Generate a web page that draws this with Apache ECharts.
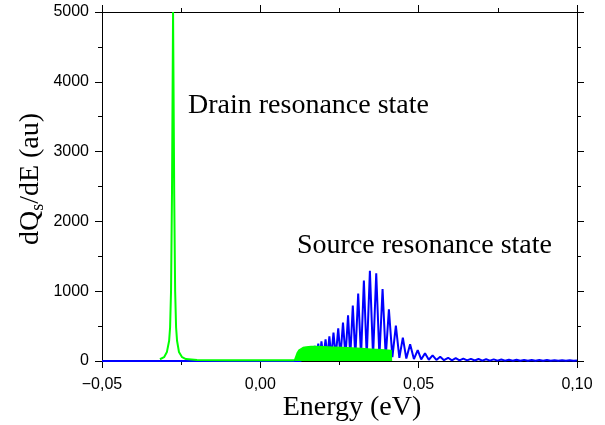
<!DOCTYPE html>
<html>
<head>
<meta charset="utf-8">
<script src="https://cdn.jsdelivr.net/npm/echarts@6/dist/echarts.min.js"></script>
<style>
html,body{margin:0;padding:0;background:#fff;}
#chart{width:605px;height:425px;}
</style>
</head>
<body>
<div id="chart"></div>
<script>
// ---- data ----
const xTickLabels = ['\u22120,05', '0,00', '0,05', '0,10'];
const yTickLabels = ['0', '1000', '2000', '3000', '4000', '5000'];

// blue curve: source-side resonance spikes (energy eV, dQs/dE)
const blueCurve = [
  [-0.05, 0], [0.0125, 0],
  [0.0150, 60], [0.0156, 20],
  [0.0162, 140], [0.0167, 40],
  [0.0172, 215], [0.0177, 50],
  [0.0183, 248], [0.0188, 50],
  [0.0193, 282], [0.0199, 55],
  [0.0206, 311], [0.0212, 55],
  [0.0218, 354], [0.0224, 55],
  [0.0231, 406], [0.0238, 60],
  [0.0246, 469], [0.0253, 60],
  [0.0261, 549], [0.0269, 60],
  [0.0277, 655], [0.0284, 60],
  [0.0292, 793], [0.0300, 60],
  [0.0309, 965], [0.0318, 60],
  [0.0327, 1152], [0.0336, 60],
  [0.0346, 1291], [0.0356, 60],
  [0.0366, 1258], [0.0376, 60],
  [0.0386, 1032], [0.0396, 60],
  [0.0406, 741], [0.0417, 55],
  [0.0428, 506], [0.0439, 45],
  [0.0450, 334], [0.0461, 35],
  [0.0473, 239], [0.0485, 28],
  [0.0497, 155], [0.0508, 22],
  [0.0520, 110], [0.0532, 18],
  [0.0544, 80], [0.0556, 15],
  [0.0568, 60], [0.0580, 12],
  [0.0593, 46], [0.0605, 10],
  [0.0617, 40], [0.0629, 9],
  [0.0641, 35], [0.0653, 8],
  [0.0665, 31], [0.0677, 7],
  [0.0689, 28], [0.0701, 6],
  [0.0713, 25], [0.0725, 6],
  [0.0737, 23], [0.0749, 5],
  [0.0761, 21], [0.0773, 5],
  [0.0785, 19], [0.0797, 5],
  [0.0809, 17], [0.0821, 4],
  [0.0833, 16], [0.0845, 4],
  [0.0857, 15], [0.0869, 4],
  [0.0881, 14], [0.0893, 4],
  [0.0905, 13], [0.0917, 3],
  [0.0929, 12], [0.0941, 3],
  [0.0953, 11], [0.0965, 3],
  [0.0977, 10], [0.0989, 3],
  [0.1000, 8]
];

// green curve: drain resonance peak and its tail
const drainPeak = [
  [-0.0317, 25], [-0.0304, 55], [-0.0295, 130], [-0.0288, 290],
  [-0.0285, 480], [-0.0282, 1000], [-0.0279, 2400], [-0.02756, 5000],
  [-0.0272, 2400], [-0.0269, 1000], [-0.0266, 480], [-0.0263, 290],
  [-0.0257, 130], [-0.0247, 55], [-0.0235, 28], [-0.020, 16],
  [-0.010, 10], [0.000, 9], [0.0108, 9]
];

// green dense band (filled) between about 0.011 and 0.041 eV
const sourceBand = [
  [0.0108, 9], [0.0110, 20], [0.0113, 70], [0.0117, 120], [0.0122, 155],
  [0.0128, 178], [0.0135, 193], [0.0145, 202], [0.0160, 207], [0.0180, 208],
  [0.0200, 204], [0.0230, 198], [0.0260, 192], [0.0290, 186], [0.0320, 178],
  [0.0350, 170], [0.0380, 162], [0.0405, 155], [0.0413, 152], [0.0414, 0]
];

const chart = echarts.init(document.getElementById('chart'), null, {renderer: 'canvas'});

const tickFont = 'Liberation Sans';
const serif = 'Liberation Serif';
const axisLineStyle = {color: '#000', width: 1};

function xAxisCfg(pos, showLabel) {
  return {
    type: 'value', position: pos, min: -0.05, max: 0.10, interval: 0.05,
    axisLine: {show: true, onZero: false, lineStyle: axisLineStyle},
    axisTick: {show: true, inside: false, length: 7, lineStyle: axisLineStyle},
    minorTick: {show: true, splitNumber: 2, length: 4, lineStyle: axisLineStyle},
    splitLine: {show: false},
    axisLabel: {
      show: showLabel, margin: 16, color: '#000', fontFamily: tickFont, fontSize: 16,
      formatter: function (v, i) { return xTickLabels[i]; }
    }
  };
}
function yAxisCfg(pos, showLabel) {
  return {
    type: 'value', position: pos, min: 0, max: 5000, interval: 1000,
    axisLine: {show: true, onZero: false, lineStyle: axisLineStyle},
    axisTick: {show: true, inside: false, length: 7, lineStyle: axisLineStyle},
    minorTick: {show: true, splitNumber: 2, length: 4, lineStyle: axisLineStyle},
    splitLine: {show: false},
    axisLabel: {
      show: showLabel, margin: 13, color: '#000', fontFamily: tickFont, fontSize: 16,
      formatter: function (v, i) { return yTickLabels[i]; }
    }
  };
}

chart.setOption({
  animation: false,
  backgroundColor: '#fff',
  grid: {left: 102, right: 28, top: 12, bottom: 64, containLabel: false},
  xAxis: [xAxisCfg('bottom', true), xAxisCfg('top', false)],
  yAxis: [yAxisCfg('left', true), yAxisCfg('right', false)],
  series: [
    {
      type: 'line', data: blueCurve, showSymbol: false, symbol: 'none',
      lineStyle: {color: '#0000ff', width: 2}, z: 3
    },
    {
      type: 'line', data: sourceBand, showSymbol: false, symbol: 'none',
      lineStyle: {color: '#00ff00', width: 1.5},
      areaStyle: {color: '#00ff00', opacity: 1, origin: 'start'}, z: 4
    },
    {
      type: 'line', data: drainPeak, showSymbol: false, symbol: 'none',
      lineStyle: {color: '#00ff00', width: 2}, z: 5
    }
  ],
  graphic: [
    {
      type: 'text', x: 188, y: 106, z: 10,
      style: {text: 'Drain resonance state', font: '28px "Liberation Serif"', fill: '#000',
              align: 'left', verticalAlign: 'middle'}
    },
    {
      type: 'text', x: 297, y: 246, z: 10,
      style: {text: 'Source resonance state', font: '28px "Liberation Serif"', fill: '#000',
              align: 'left', verticalAlign: 'middle'}
    },
    {
      type: 'text', x: 352, y: 408, z: 10,
      style: {text: 'Energy (eV)', font: '28px "Liberation Serif"', fill: '#000',
              align: 'center', verticalAlign: 'middle'}
    },
    {
      type: 'text', x: 31, y: 179, rotation: Math.PI / 2, z: 10,
      style: {
        text: '{a|dQ}{b|s}{a|/dE (au)}',
        align: 'center', verticalAlign: 'middle', fill: '#000',
        rich: {
          a: {fontSize: 28, fontFamily: serif, fill: '#000'},
          b: {fontSize: 18, fontFamily: serif, fill: '#000', padding: [14, 0, 0, 0]}
        }
      }
    }
  ]
});
</script>
</body>
</html>
